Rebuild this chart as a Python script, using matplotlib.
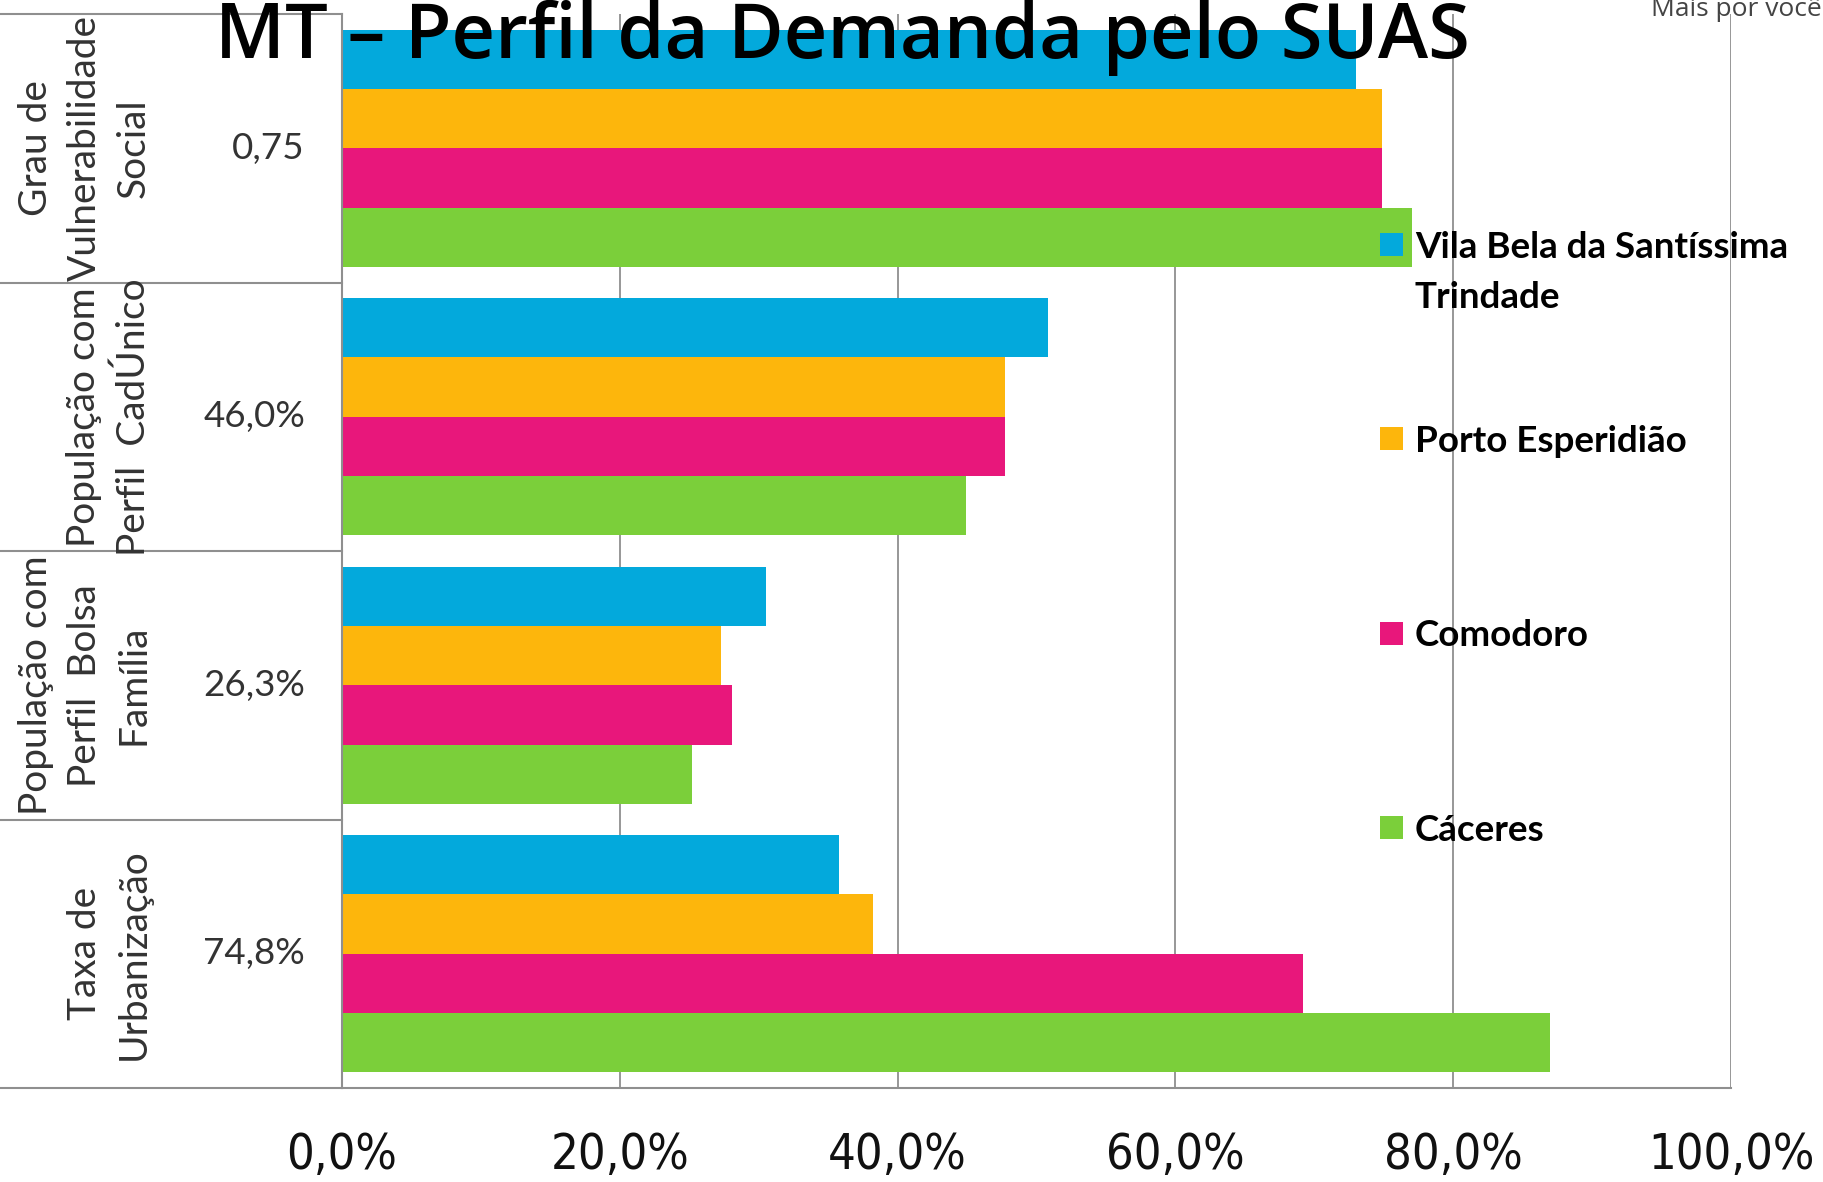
import matplotlib
matplotlib.use("Agg")
import matplotlib.pyplot as plt
from matplotlib.patches import Rectangle
from matplotlib import font_manager
import numpy as np

# ---------------- data ----------------
categories = [
    "Grau de\nVulnerabilidade\nSocial",
    "População com\nPerfil  CadÚnico",
    "População com\nPerfil  Bolsa\nFamília",
    "Taxa de\nUrbanização",
]
reference_values = ["0,75", "46,0%", "26,3%", "74,8%"]
series_names = ["Vila Bela da Santíssima\nTrindade", "Porto Esperidião", "Comodoro", "Cáceres"]
vila_bela = [73.0, 50.8, 30.5, 35.8]
porto_esperidiao = [74.9, 47.7, 27.3, 38.2]
comodoro = [74.9, 47.7, 28.1, 69.2]
caceres = [77.0, 44.9, 25.2, 87.0]
series_values = [vila_bela, porto_esperidiao, comodoro, caceres]
colors = ["#03A9DC", "#FDB60C", "#E8177B", "#7BCF3A"]
x_ticks = [0, 20, 40, 60, 80, 100]

# ---------------- figure ----------------
W, H = 1824, 1182
DPI = 100
fig = plt.figure(figsize=(W / DPI, H / DPI), dpi=DPI)
fig.patch.set_facecolor("white")

def fx(x):
    return x / W

def fy(y):
    return 1 - y / H

# pick a condensed face for the x tick labels if one is installed
cond_file = None
for f in font_manager.fontManager.ttflist:
    if f.name == "DejaVu Sans" and "condensed" in str(f.stretch).lower() and f.weight in (400, "normal") and f.style == "normal":
        cond_file = f.fname
        break
if cond_file:
    tick_font = font_manager.FontProperties(fname=cond_file, size=35)
else:
    tick_font = font_manager.FontProperties(family="Lato", size=32)

ax_left, ax_right, ax_top, ax_bottom = 342, 1731, 14, 1088
ax = fig.add_axes([fx(ax_left), fy(ax_bottom), (ax_right - ax_left) / W, (ax_bottom - ax_top) / H])

n_cat = len(categories)
n_ser = len(series_values)
bar_h = 0.221
y_idx = np.arange(n_cat)
for j, (vals, col) in enumerate(zip(series_values, colors)):
    ax.barh(y_idx + (j - (n_ser - 1) / 2) * bar_h, vals, height=bar_h, color=col,
            edgecolor="none", zorder=2)

ax.set_xlim(0, 100)
ax.set_ylim(n_cat - 0.5, -0.5)
ax.set_xticks(x_ticks)
ax.set_xticklabels([f"{v:.1f}".replace(".", ",") + "%" for v in x_ticks],
                   fontproperties=tick_font, color="#111111")
ax.tick_params(axis="x", length=0, pad=31)
ax.set_yticks([])
ax.xaxis.grid(True, color="#8f8f8f", linewidth=1.3, zorder=0)
ax.set_axisbelow(True)
for s in ["top", "right"]:
    ax.spines[s].set_visible(False)
for s in ["left", "bottom"]:
    ax.spines[s].set_color("#8f8f8f")
    ax.spines[s].set_linewidth(1.5)

# left table lines
tab_left = -ax_left / (ax_right - ax_left)
ytr = ax.get_yaxis_transform()
for b in np.arange(n_cat) - 0.5:
    ax.plot([tab_left, 0], [b, b], transform=ytr, color="#8f8f8f", lw=1.5, clip_on=False)
ax.plot([tab_left, 0], [n_cat - 0.5, n_cat - 0.5], transform=ytr, color="#8f8f8f", lw=1.5, clip_on=False)

# reference values column
val_x = (305 - ax_left) / (ax_right - ax_left)
for i, v in enumerate(reference_values):
    ax.text(val_x, i, v, transform=ytr, ha="right", va="center", fontsize=26.5,
            family="Lato", color="#333333")

# category labels (rotated)
cat_x = (152 - ax_left) / (ax_right - ax_left)
for i, c in enumerate(categories):
    ax.text(cat_x, i, c, transform=ytr, rotation=90, ha="right", va="center",
            multialignment="center", fontsize=28, family="Lato", color="#333333",
            linespacing=1.45)

# title
fig.text(fx(215), fy(58), "MT – Perfil da Demanda pelo SUAS", ha="left", va="baseline",
         fontsize=54.5, family="Open Sans", weight="semibold", color="black", zorder=10)
fig.text(fx(1822), fy(16), "Mais por você", ha="right", va="baseline",
         fontsize=19, family="Open Sans", color="#444444", zorder=10)

# legend (manual)
leg_sq_x, leg_sq = 1380, 23
leg_txt_x = 1415
leg_y0, leg_dy = 244, 194.5
for j, (name, col) in enumerate(zip(series_names, colors)):
    yc = leg_y0 + j * leg_dy
    fig.patches.append(Rectangle((fx(leg_sq_x), fy(yc + leg_sq / 2)), leg_sq / W, leg_sq / H,
                                 transform=fig.transFigure, facecolor=col, edgecolor="none", zorder=5))
    for k, ln in enumerate(name.split("\n")):
        fig.text(fx(leg_txt_x), fy(yc + k * 50), ln, ha="left", va="center_baseline",
                 fontsize=26.5, family="Lato", weight="bold", color="black", zorder=10)

fig.savefig("out.png", dpi=DPI, facecolor="white")
